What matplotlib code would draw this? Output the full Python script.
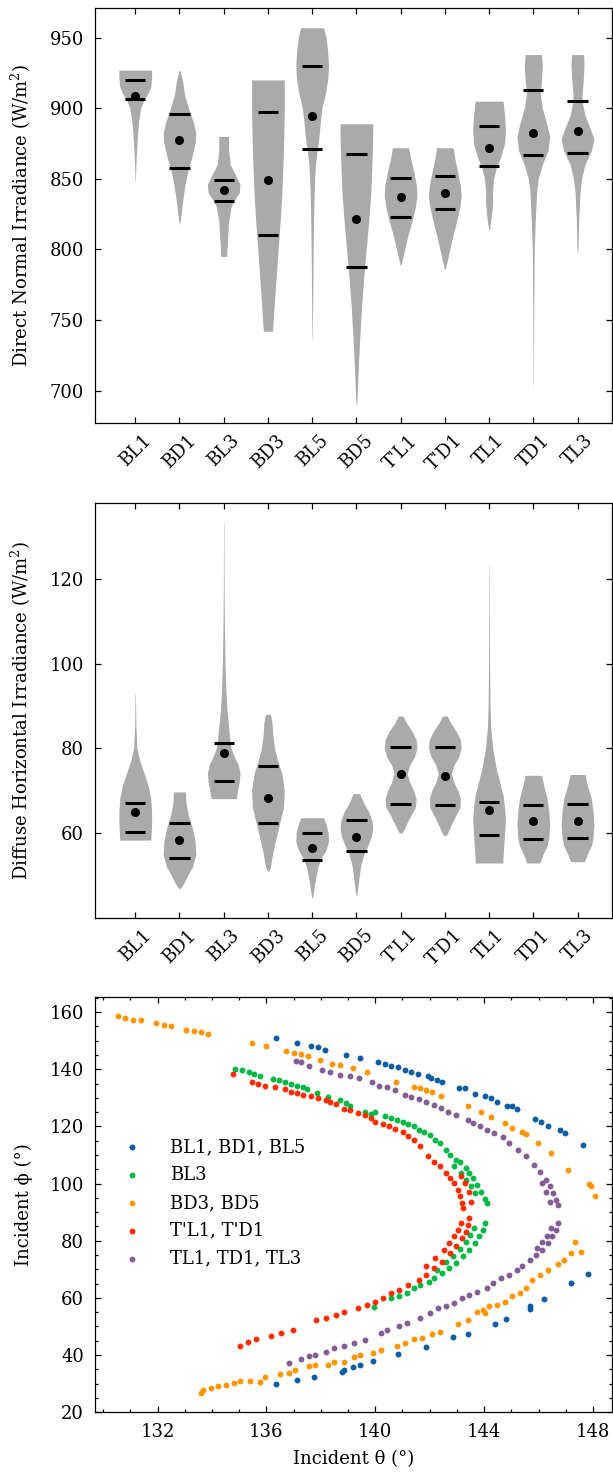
import numpy as np
import matplotlib
matplotlib.use('Agg')
import matplotlib.pyplot as plt
from matplotlib.ticker import MultipleLocator

plt.rcParams['font.family'] = ['DejaVu Serif']
plt.rcParams['mathtext.fontset'] = 'dejavuserif'
FS = 13

cats = ['BL1', 'BD1', 'BL3', 'BD3', 'BL5', 'BD5', "T'L1", "T'D1", 'TL1', 'TD1', 'TL3']

# ---- direct normal irradiance: violin outlines (level, relative half-width) ----
dni_lv = [
    [927, 922, 915, 910, 905, 900, 890, 880, 870, 860, 848],
    [927, 920, 910, 900, 890, 882, 875, 865, 855, 845, 835, 825, 818],
    [880, 870, 860, 852, 846, 840, 835, 830, 820, 810, 800, 795],
    [920, 900, 880, 860, 840, 820, 800, 780, 760, 745, 742],
    [957, 950, 940, 930, 920, 910, 900, 890, 880, 870, 860, 850, 830, 800, 770, 736],
    [889, 880, 860, 840, 820, 800, 780, 760, 740, 720, 700, 690],
    [872, 865, 855, 845, 838, 830, 820, 810, 800, 795, 789],
    [872, 865, 855, 845, 838, 830, 820, 810, 800, 792, 786],
    [905, 895, 885, 875, 865, 858, 850, 840, 835, 828, 820, 814],
    [938, 930, 920, 910, 900, 890, 880, 870, 860, 850, 840, 820, 800, 760, 704],
    [938, 930, 920, 910, 905, 895, 885, 878, 870, 860, 850, 840, 820, 800, 798],
]
dni_w = [
    [1.0, 1.0, 0.95, 0.75, 0.5, 0.33, 0.2, 0.13, 0.08, 0.04, 0.01],
    [0.02, 0.18, 0.3, 0.55, 0.85, 1.0, 0.95, 0.75, 0.5, 0.33, 0.2, 0.1, 0.02],
    [0.3, 0.3, 0.4, 0.75, 1.0, 0.95, 0.65, 0.45, 0.3, 0.25, 0.2, 0.18],
    [1.0, 1.0, 0.97, 0.92, 0.85, 0.75, 0.62, 0.5, 0.38, 0.3, 0.27],
    [0.7, 0.85, 0.95, 1.0, 0.95, 0.8, 0.6, 0.5, 0.42, 0.3, 0.2, 0.15, 0.1, 0.06, 0.04, 0.01],
    [1.0, 1.0, 0.95, 0.88, 0.75, 0.6, 0.45, 0.32, 0.22, 0.13, 0.06, 0.02],
    [0.5, 0.6, 0.8, 0.97, 1.0, 0.9, 0.7, 0.45, 0.25, 0.15, 0.03],
    [0.5, 0.6, 0.78, 0.95, 1.0, 0.92, 0.72, 0.5, 0.3, 0.15, 0.03],
    [0.85, 0.95, 1.0, 0.95, 0.7, 0.45, 0.28, 0.2, 0.22, 0.18, 0.1, 0.03],
    [0.5, 0.55, 0.5, 0.42, 0.55, 0.8, 1.0, 0.9, 0.55, 0.3, 0.2, 0.12, 0.06, 0.03, 0.01],
    [0.37, 0.4, 0.35, 0.28, 0.28, 0.45, 0.8, 1.0, 0.85, 0.45, 0.25, 0.15, 0.07, 0.03, 0.01],
]
dni_q1 = [906.5, 857.5, 834.3, 810.5, 871.2, 787.5, 823.2, 828.4, 859.2, 866.8, 868.4]
dni_q3 = [920.0, 895.6, 849.0, 897.3, 930.1, 867.5, 850.9, 852.3, 887.1, 912.9, 905.3]
dni_mean = [908.8, 877.4, 841.9, 848.8, 894.4, 821.6, 837.2, 839.6, 872.0, 882.6, 883.8]

# ---- diffuse horizontal irradiance ----
dhi_lv = [
    [93, 85, 80, 77, 74, 71, 68, 65, 62, 60, 58.3],
    [69.7, 67, 64, 61, 58, 55, 52, 50, 48, 46.9],
    [133.4, 120, 110, 100, 95, 90, 85, 82, 80, 78, 76, 74, 72, 70, 68.1],
    [88, 86, 83, 80, 77, 74, 70, 66, 62, 58, 55, 52, 51],
    [63.6, 62, 60, 58, 56, 54, 52, 49, 46, 44.7],
    [69.3, 67, 65, 63, 61, 59, 57, 55, 52, 49, 45.3],
    [87.6, 86, 84, 82, 80, 78, 76, 74, 72, 70, 68, 66, 64, 62, 60],
    [87.6, 86, 84, 82, 80, 78, 76, 74, 72, 70, 68, 66, 64, 62, 59.4],
    [123.1, 110, 100, 90, 85, 80, 75, 72, 69, 66, 63, 60, 57, 54, 52.9],
    [73.6, 71, 68, 65, 62, 59, 57, 55, 52.9],
    [73.8, 71, 68, 65, 62, 59, 57, 55, 53.2],
]
dhi_w = [
    [0.01, 0.04, 0.1, 0.28, 0.55, 0.8, 0.95, 1.0, 1.0, 0.97, 0.95],
    [0.37, 0.4, 0.55, 0.8, 0.95, 1.0, 0.8, 0.5, 0.25, 0.05],
    [0.01, 0.02, 0.04, 0.08, 0.12, 0.18, 0.3, 0.38, 0.45, 0.65, 0.9, 1.0, 0.95, 0.85, 0.77],
    [0.15, 0.25, 0.3, 0.4, 0.6, 0.85, 1.0, 0.95, 0.7, 0.45, 0.28, 0.15, 0.05],
    [0.7, 0.85, 0.98, 1.0, 0.85, 0.55, 0.35, 0.2, 0.08, 0.02],
    [0.2, 0.45, 0.75, 0.95, 1.0, 0.9, 0.7, 0.45, 0.25, 0.15, 0.03],
    [0.15, 0.35, 0.7, 0.95, 1.0, 0.85, 0.55, 0.4, 0.55, 0.8, 0.95, 0.9, 0.6, 0.35, 0.1],
    [0.15, 0.35, 0.7, 0.95, 1.0, 0.85, 0.55, 0.4, 0.55, 0.8, 0.95, 0.92, 0.65, 0.4, 0.1],
    [0.01, 0.02, 0.03, 0.06, 0.1, 0.22, 0.45, 0.65, 0.85, 0.95, 1.0, 0.95, 0.9, 0.85, 0.85],
    [0.5, 0.65, 0.85, 0.95, 1.0, 0.95, 0.85, 0.6, 0.4],
    [0.45, 0.62, 0.85, 0.95, 1.0, 0.95, 0.85, 0.6, 0.42],
]
dhi_q1 = [60.2, 54.0, 72.2, 62.4, 53.6, 55.8, 66.8, 66.5, 59.6, 58.5, 58.9]
dhi_q3 = [67.1, 62.4, 81.2, 75.7, 60.0, 63.0, 80.4, 80.4, 67.2, 66.6, 66.9]
dhi_mean = [65.0, 58.3, 78.9, 68.2, 56.5, 59.1, 74.0, 73.5, 65.3, 62.7, 62.8]

# ---- incidence angles (theta, phi) per building group ----
grp_labels = ['BL1, BD1, BL5', 'BL3', 'BD3, BD5', "T'L1, T'D1", 'TL1, TD1, TL3']
grp_colors = ['#0C5DA5', '#00B945', '#FF9500', '#FF2C00', '#845B97']

theta_b = [136.34, 137.12, 137.65, 137.91, 138.15, 138.92, 139.42, 140.09, 140.36, 140.58,
           140.82, 141.08, 141.33, 141.56, 141.95, 142.06, 142.28, 142.45, 143.06, 143.29,
           143.68, 144.04, 144.25, 144.47, 144.83, 145.02, 145.22, 145.88, 146.08, 146.34,
           146.80, 146.99, 147.64,
           147.81, 147.21, 146.20, 145.69, 145.69, 144.79, 144.40, 143.39, 142.85, 141.87,
           140.84, 139.90, 139.42, 139.18, 138.85, 138.77, 137.74, 137.12, 136.34]
phi_b = [150.8, 149.2, 148.2, 147.6, 146.8, 145.1, 143.8, 142.7, 141.9, 141.2,
         140.8, 139.8, 139.2, 138.2, 137.5, 136.9, 136.1, 135.4, 133.6, 133.6,
         131.3, 130.7, 130.1, 128.7, 127.3, 127.0, 126.2, 122.6, 121.7, 120.3,
         118.6, 117.7, 113.6,
         68.3, 65.2, 59.6, 57.0, 56.1, 52.6, 50.9, 47.4, 46.3, 42.8,
         40.4, 37.9, 36.5, 36.0, 34.8, 34.2, 32.3, 31.2, 29.8]

theta_g = [134.84, 135.10, 135.36, 135.53, 135.75, 136.25, 136.47, 136.68, 136.90, 137.12,
           137.33, 137.48, 137.87, 138.27, 138.70, 138.92, 139.06, 139.64, 139.86, 140.00,
           140.36, 140.58, 140.79, 141.01, 141.22, 141.44, 141.61, 141.80, 142.02, 142.19,
           142.38, 142.59, 142.74, 142.95, 143.10, 143.34, 143.46, 143.60, 143.75, 143.89,
           144.04, 144.11,
           143.68, 143.53, 143.32, 143.14, 142.91,
           144.04, 143.96, 143.82, 143.68, 143.46, 143.24, 142.95, 142.71, 142.45, 142.16,
           141.99, 141.66, 141.44, 141.15, 140.86, 140.58, 139.97,
           143.63, 143.49, 143.32, 143.10, 142.85, 142.59, 142.28]
phi_g = [140.2, 139.6, 139.0, 138.5, 137.8, 136.6, 136.1, 135.5, 134.9, 134.3,
         133.8, 133.2, 131.7, 130.3, 129.1, 128.2, 127.3, 125.2, 124.4, 124.9,
         123.5, 123.0, 122.3, 121.5, 120.9, 120.0, 118.8, 118.2, 117.1, 115.3,
         114.2, 111.8, 110.1, 108.3, 107.7, 105.4, 103.7, 101.9, 99.6, 97.2,
         94.6, 93.2,
         96.7, 99.0, 101.3, 103.7, 106.0,
         86.2, 83.8, 81.5, 79.2, 76.8, 74.5, 72.2, 70.4, 68.7, 66.9,
         65.7, 64.6, 63.4, 61.7, 60.5, 59.9, 56.8,
         84.4, 82.1, 79.4, 77.1, 74.5, 72.4, 69.8]

theta_o = [130.54, 130.82, 131.11, 131.38, 131.93, 132.22, 132.48, 133.05, 133.33, 133.61,
           133.87, 135.46, 135.99, 136.73, 137.00, 137.26, 137.51, 137.98, 138.41, 138.70,
           139.18, 139.71, 140.76, 141.41, 141.66, 141.87, 142.09, 142.42, 143.39, 143.89,
           144.25, 144.76, 145.04, 145.38, 145.55, 145.98, 146.46, 147.09, 147.86, 147.93,
           148.07,
           147.35, 147.57, 147.18, 146.92, 146.70, 146.34, 146.05, 145.77, 145.55, 145.33,
           145.04, 144.76, 144.47, 144.18, 143.96, 143.75, 144.04, 143.39, 143.03, 142.38,
           142.09, 141.73, 141.44, 141.08, 140.79, 140.22, 139.93, 139.42, 139.21, 138.85,
           138.49, 138.27, 137.77, 137.55, 137.04, 136.83, 136.51, 135.96, 135.75, 135.39,
           135.03, 134.81, 134.52, 134.23, 133.95, 133.66, 133.59]
phi_o = [158.5, 157.9, 157.3, 157.1, 156.2, 155.5, 155.0, 153.8, 153.4, 152.9,
         152.4, 149.2, 148.0, 146.5, 145.7, 145.2, 144.5, 143.3, 141.9, 141.6,
         140.4, 139.0, 135.7, 133.8, 133.3, 132.6, 132.0, 130.5, 127.0, 125.2,
         123.3, 121.2, 119.4, 118.0, 117.4, 114.2, 110.7, 104.6, 99.9, 99.0,
         95.7,
         79.4, 76.2, 75.7, 73.3, 71.9, 69.8, 68.1, 66.3, 63.4, 61.7,
         60.5, 58.7, 57.6, 57.0, 55.6, 55.2, 54.7, 52.3, 50.9, 48.2,
         47.3, 45.9, 45.6, 44.2, 43.2, 41.6, 40.7, 40.1, 39.3, 37.7,
         37.7, 36.6, 36.6, 36.2, 34.8, 33.7, 33.4, 32.5, 30.7, 31.1,
         31.0, 30.4, 29.6, 29.2, 28.4, 27.8, 26.7]

theta_r = [134.77, 135.46, 135.68, 135.96, 136.32, 136.68, 136.90, 137.12, 137.33, 137.62,
           137.91, 138.20, 138.34, 138.56, 138.85, 139.06, 139.35, 139.64, 139.86, 140.00,
           140.29, 140.50, 140.72, 141.01, 141.22, 141.44, 141.66, 141.95, 142.16, 142.38,
           142.59, 142.74, 142.88, 143.03, 143.10, 143.17, 143.21,
           143.53, 143.43, 143.29, 143.14,
           143.46, 143.39, 143.32, 143.17, 142.95, 142.74, 142.45, 142.16, 141.87, 141.59,
           141.22, 140.86, 140.58, 140.29, 140.00, 139.71, 139.35, 138.85, 138.56, 138.20,
           137.81, 136.97, 136.54, 136.18, 135.60, 135.32, 135.03,
           143.14, 143.03, 142.88, 142.71, 142.52, 142.19, 141.87]
phi_r = [138.4, 135.5, 134.9, 134.3, 133.8, 133.1, 132.2, 131.7, 131.1, 130.5,
         129.9, 129.3, 128.4, 127.9, 126.1, 125.6, 124.7, 124.1, 122.9, 121.7,
         120.9, 120.0, 119.2, 118.2, 116.5, 115.3, 113.0, 109.5, 107.7, 106.0,
         103.7, 101.9, 100.2, 97.8, 95.5, 93.2, 91.4,
         93.7, 97.2, 100.2, 102.7,
         87.9, 85.6, 83.2, 80.9, 78.0, 75.7, 72.7, 70.4, 68.1, 66.3,
         64.6, 62.8, 61.7, 59.9, 58.7, 57.6, 56.4, 55.2, 54.1, 52.9,
         52.3, 48.8, 47.7, 46.7, 45.6, 44.7, 43.0,
         86.2, 83.8, 81.5, 79.2, 76.8, 73.9, 71.2]

theta_p = [137.09, 137.26, 137.58, 138.05, 138.34, 138.70, 139.06, 139.39, 139.88, 140.14,
           140.43, 140.72, 141.08, 141.30, 141.59, 141.87, 142.16, 142.42, 142.67, 142.95,
           143.39, 143.60, 143.86, 144.11, 144.35, 144.68, 144.90, 145.26, 145.55, 145.84,
           146.05, 146.27, 146.41, 146.52, 146.63, 146.70,
           146.13, 146.27, 146.41,
           146.70, 146.63, 146.49, 146.34, 146.13, 145.91, 145.69, 145.41, 145.19, 144.90,
           144.61, 144.32, 144.11, 143.75, 143.46, 143.17, 142.88, 142.59, 142.31, 142.02,
           141.66, 141.15, 140.86, 140.43, 140.22, 139.64, 139.21, 138.85, 138.49, 138.20,
           137.77, 137.55, 137.26, 136.83,
           146.46, 146.31, 146.13, 145.94]
phi_p = [143.0, 142.4, 141.2, 139.8, 139.2, 138.1, 137.5, 136.9, 135.4, 134.2,
         133.8, 132.8, 131.1, 130.3, 129.6, 128.7, 127.6, 126.4, 125.2, 124.1,
         122.3, 121.2, 120.0, 118.8, 117.7, 116.3, 114.2, 111.8, 109.5, 106.6,
         104.2, 101.3, 99.0, 96.7, 94.3, 92.6,
         100.2, 97.2, 93.7,
         86.2, 83.8, 81.5, 79.2, 76.8, 75.1, 73.3, 71.0, 69.8, 68.1,
         66.9, 65.2, 63.4, 62.2, 61.1, 59.9, 58.2, 57.0, 56.4, 54.7,
         52.9, 51.2, 50.0, 48.8, 47.7, 45.3, 44.2, 43.0, 42.4, 41.2,
         40.1, 39.5, 38.6, 37.2,
         84.4, 81.7, 79.4, 77.3]

grp_theta = [theta_b, theta_g, theta_o, theta_r, theta_p]
grp_phi = [phi_b, phi_g, phi_o, phi_r, phi_p]

VCOL = '#aaaaaa'
HALF = 0.37      # max violin half-width in category units
QHALF = 0.23     # half-length of quartile bars


def style(ax):
    ax.tick_params(which='both', direction='in', top=True, right=True,
                   labelsize=FS, width=0.9)
    ax.tick_params(which='major', length=4.5)
    ax.tick_params(which='minor', length=2.5)
    ax.tick_params(axis='y', pad=8)
    for sp in ax.spines.values():
        sp.set_linewidth(0.9)


def violins(ax, lv, w, q1, q3, mean):
    for i in range(len(cats)):
        y = np.array(lv[i], float)
        hw = np.array(w[i], float) * HALF
        ax.fill_betweenx(y, i - hw, i + hw, color=VCOL, lw=0)
        ax.hlines([q1[i], q3[i]], i - QHALF, i + QHALF, color='black', lw=2.2)
    ax.plot(range(len(cats)), mean, 'o', color='black', ms=5.5)
    ax.set_xticks(range(len(cats)))
    ax.set_xticklabels(cats, rotation=45, fontsize=FS)
    ax.set_xlim(-0.91, 10.78)
    style(ax)
    ax.tick_params(axis='x', pad=6)


fig = plt.figure(figsize=(6.13, 14.76), dpi=100)
ax1 = fig.add_axes([0.155, 0.7134, 0.8434, 0.2812])
ax2 = fig.add_axes([0.155, 0.3783, 0.8434, 0.2812])
ax3 = fig.add_axes([0.155, 0.0432, 0.8434, 0.2812])

violins(ax1, dni_lv, dni_w, dni_q1, dni_q3, dni_mean)
ax1.set_ylim(677, 971)
ax1.set_yticks([700, 750, 800, 850, 900, 950])
ax1.set_ylabel('Direct Normal Irradiance (W/m$^2$)', fontsize=FS)

violins(ax2, dhi_lv, dhi_w, dhi_q1, dhi_q3, dhi_mean)
ax2.set_ylim(40, 138)
ax2.set_yticks([60, 80, 100, 120])
ax2.set_ylabel('Diffuse Horizontal Irradiance (W/m$^2$)', fontsize=FS)

for th, ph, lab, col in zip(grp_theta, grp_phi, grp_labels, grp_colors):
    ax3.scatter(th, ph, s=18, color=col, lw=0, label=lab)
ax3.set_xlim(129.7, 148.7)
ax3.set_ylim(20, 165.2)
ax3.xaxis.set_major_locator(MultipleLocator(4))
ax3.xaxis.set_minor_locator(MultipleLocator(1))
ax3.yaxis.set_major_locator(MultipleLocator(20))
ax3.yaxis.set_minor_locator(MultipleLocator(5))
style(ax3)
ax3.tick_params(axis='x', pad=8)
ax3.set_xlabel('Incident θ (°)', fontsize=FS, labelpad=6)
ax3.set_ylabel('Incident ϕ (°)', fontsize=FS)
ax3.legend(loc='upper left', bbox_to_anchor=(0.023, 0.678), borderaxespad=0,
           frameon=False, fontsize=FS, handletextpad=1.1, labelspacing=0.55)

for ax in (ax1, ax2, ax3):
    ax.yaxis.set_label_coords(-0.12, 0.5)

fig.savefig('out.png', dpi=100)
